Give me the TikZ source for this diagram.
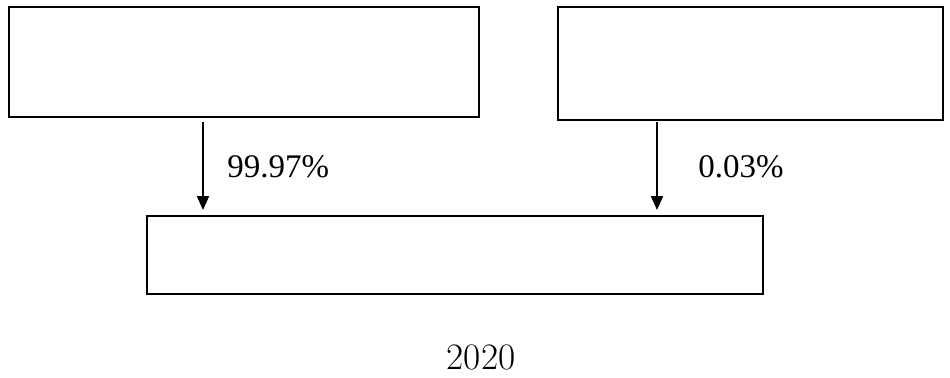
\documentclass[tikz,border=0pt]{standalone}
\usepackage{fontspec}
\newfontfamily\pctfont{Liberation Serif}
\usetikzlibrary{arrows.meta}
\begin{document}
\begin{tikzpicture}[x=0.75pt,y=-0.75pt,
  box/.style={draw,line width=1.5pt,inner sep=0pt,outer sep=0pt},
  arr/.style={line width=1.5pt,-{Triangle[length=10.5pt,width=9pt]}},
  pct/.style={inner sep=0pt,anchor=base west,font=\pctfont\fontsize{24.75}{30}\selectfont},
  yr/.style={inner sep=0pt,anchor=base,font=\fontsize{28}{34}\selectfont}]
\useasboundingbox (0,0) rectangle (950,378);
\node[box,minimum width=352.5pt,minimum height=82.5pt] (A) at (244,62) {};
\node[box,minimum width=288.75pt,minimum height=84.75pt] (B) at (750.5,63.5) {};
\node[box,minimum width=462pt,minimum height=58.5pt] (C) at (455,255) {};
\coordinate (a1) at (203,122);
\coordinate (b1) at (657,122);
\draw[arr] (a1) -- ([yshift=4.5pt]a1 |- C.north);
\draw[arr] (b1) -- ([yshift=4.5pt]b1 |- C.north);
\node[pct] (p1) at (227,177) {99.97\%};
\node[pct] (p2) at (698,177) {0.03\%};
\node[yr] (y) at (481,369) {2020};
\end{tikzpicture}
\end{document}
